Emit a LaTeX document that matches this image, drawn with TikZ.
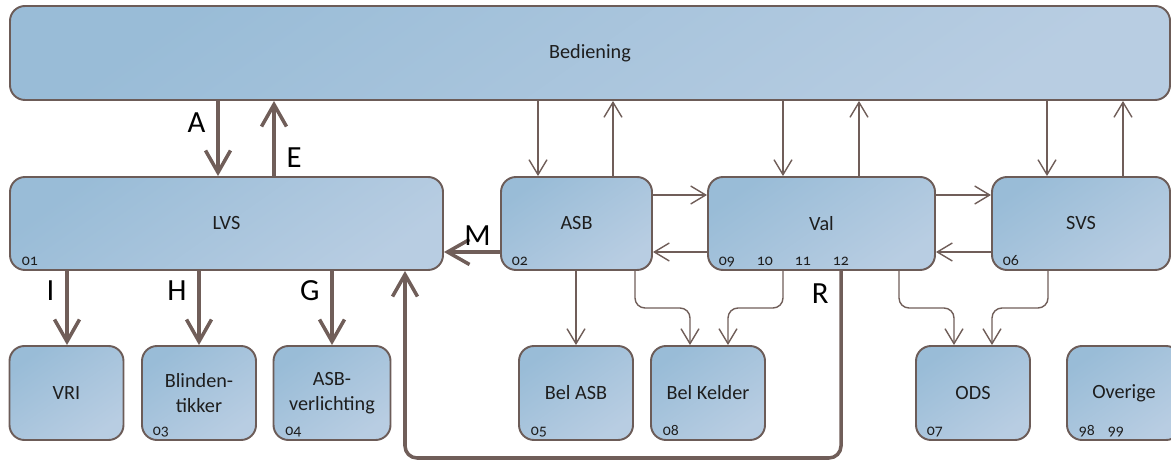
\documentclass[tikz,border=0pt]{standalone}
\usepackage{fontspec}
\setmainfont{Carlito}
\usetikzlibrary{arrows.meta,calc}

\definecolor{boxline}{RGB}{108,92,88}
\definecolor{boxtop}{RGB}{153,188,215}
\definecolor{boxbot}{RGB}{184,205,226}
\definecolor{linkcol}{RGB}{112,94,89}
\definecolor{txtcol}{RGB}{30,30,30}

\tikzset{
every picture/.style={
line width=1pt
}}

\begin{document}
\begin{tikzpicture}[x=0.2mm, y=-0.2mm,
block/.style = {rectangle, rounded corners=3mm, draw=boxline, line width=1.1pt,
  top color=boxtop, bottom color=boxbot, shading angle=35, text=txtcol,
  font=\fontsize{11.5}{14.5}\selectfont, align=center, inner sep=0pt,
  minimum height=18.6mm},
leaf/.style = {block, minimum width=22.8mm, minimum height=18.8mm},
link/.style = {draw=linkcol, line width=0.8pt, -{Straight Barb[length=3mm,width=3.6mm]}},
biglink/.style = {draw=linkcol, line width=2pt, -{Straight Barb[length=4.4mm,width=5mm]}},
lbl/.style = {font=\fontsize{17.5}{19}\selectfont, text=black, inner sep=1pt},
num/.style = {font=\fontsize{9}{10}\selectfont\addfontfeatures{Numbers=OldStyle},
  text=txtcol, inner sep=0pt, anchor=base west}]

\useasboundingbox (0,0) rectangle (1171,476);

% upper boxes
\node[block, minimum width=232mm, minimum height=18.8mm] (bed) at (590,53) {Bediening};
\node[block, minimum width=86.6mm] (lvs) at (226.5,223.5) {LVS};
\node[block, minimum width=30.2mm] (asb) at (576.5,223.5) {ASB};
\node[block, minimum width=45.4mm] (val) at (821.5,223.5) {Val};
\node[block, minimum width=35.6mm] (svs) at (1081,223.5) {SVS};

% lower boxes
\node[leaf] (vri) at (66.5,393) {VRI};
\node[leaf] (blind) at (199,393) {Blinden-\\tikker};
\node[leaf, minimum width=23.4mm] (asbv) at (332,393) {ASB-\\verlichting};
\node[leaf] (belasb) at (576,393) {Bel ASB};
\node[leaf] (belkel) at (708,393) {Bel Kelder};
\node[leaf] (ods) at (973,393) {ODS};
\node[leaf] (overige) at (1124,393) {Overige};

% numbers
\node[num] (n01) at ($(lvs.south west)+(12,-5)$) {01};
\node[num] (n02) at ($(asb.south west)+(11,-5)$) {02};
\node[num] (n09) at ($(val.south west)+(11,-5)$) {09};
\node[num] (n10) at ($(val.south west)+(49,-5)$) {10};
\node[num] (n11) at ($(val.south west)+(87,-5)$) {11};
\node[num] (n12) at ($(val.south west)+(125,-5)$) {12};
\node[num] (n06) at ($(svs.south west)+(11,-5)$) {06};
\node[num] (n03) at ($(blind.south west)+(11,-5)$) {03};
\node[num] (n04) at ($(asbv.south west)+(12,-5)$) {04};
\node[num] (n05) at ($(belasb.south west)+(12,-5)$) {05};
\node[num] (n08) at ($(belkel.south west)+(12,-5)$) {08};
\node[num] (n07) at ($(ods.south west)+(11,-5)$) {07};
\node[num] (n98) at ($(overige.south west)+(12,-5)$) {98};
\node[num] (n99) at ($(overige.south west)+(41,-5)$) {99};

% LVS links
\draw[biglink] (bed.south -| 218,0) -- node[lbl, pos=0.29, left=1.8mm] (lA) {A} (lvs.north -| 218,0);
\draw[biglink] (lvs.north -| 274,0) -- node[lbl, pos=0.25, right=1.8mm] (lE) {E} (bed.south -| 274,0);
\draw[biglink] (lvs.south -| 67,0) -- node[lbl, pos=0.26, left=1.8mm] (lI) {I} (vri.north -| 67,0);
\draw[biglink] (lvs.south -| 199,0) -- node[lbl, pos=0.26, left=1.8mm] (lH) {H} (blind.north -| 199,0);
\draw[biglink] (lvs.south -| 332,0) -- node[lbl, pos=0.26, left=1.8mm] (lG) {G} (asbv.north -| 332,0);
\draw[biglink] (asb.west |- 0,252) -- node[lbl, pos=0.4, above=0.6mm] (lM) {M} (lvs.east |- 0,252);
\draw[biglink, rounded corners=2.4mm] (val.south -| 841,0) |- node[lbl, pos=0.06, left=1.8mm] (lR) {R} (405,458) -- (lvs.south -| 405,0);

% Bediening links
\draw[link] (bed.south -| 538,0) -- (asb.north -| 538,0);
\draw[link] (asb.north -| 613,0) -- (bed.south -| 613,0);
\draw[link] (bed.south -| 783,0) -- (val.north -| 783,0);
\draw[link] (val.north -| 859,0) -- (bed.south -| 859,0);
\draw[link] (bed.south -| 1047,0) -- (svs.north -| 1047,0);
\draw[link] (svs.north -| 1123,0) -- (bed.south -| 1123,0);

% between ASB, Val, SVS
\draw[link] (asb.east |- 0,195) -- (val.west |- 0,195);
\draw[link] (val.west |- 0,252) -- (asb.east |- 0,252);
\draw[link] (val.east |- 0,195) -- (svs.west |- 0,195);
\draw[link] (svs.west |- 0,252) -- (val.east |- 0,252);

% to bells and ODS
\draw[link] (asb.south -| 576,0) -- (belasb.north -| 576,0);
\draw[link, rounded corners=2mm] (asb.south -| 635,0) |- (690,308) -- (belkel.north -| 690,0);
\draw[link, rounded corners=2mm] (val.south -| 783,0) |- (728,308) -- (belkel.north -| 728,0);
\draw[link, rounded corners=2mm] (val.south -| 899,0) |- (954,308) -- (ods.north -| 954,0);
\draw[link, rounded corners=2mm] (svs.south -| 1048,0) |- (992,308) -- (ods.north -| 992,0);
\end{tikzpicture}
\end{document}
